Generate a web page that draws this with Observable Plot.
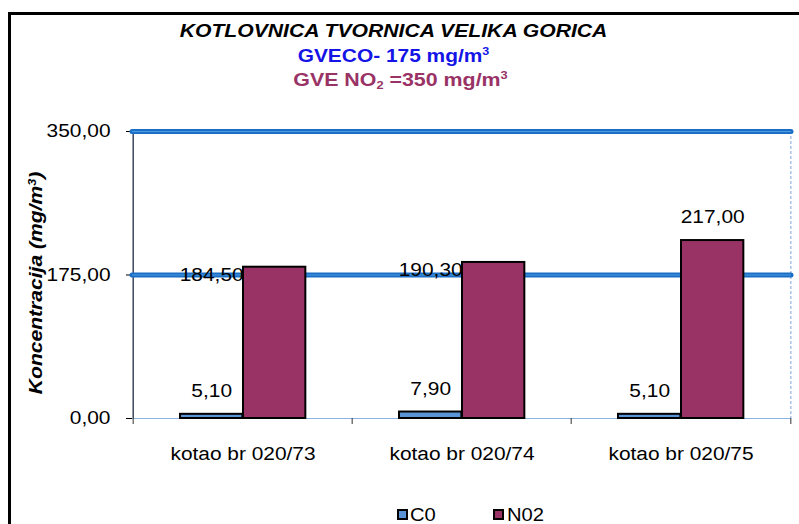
<!DOCTYPE html>
<html>
<head>
<meta charset="utf-8">
<script src="https://cdn.jsdelivr.net/npm/d3@7"></script>
<script src="https://cdn.jsdelivr.net/npm/@observablehq/plot@0.6"></script>
<style>
  body { margin: 0; background: #fff; }
  #wrap { position: relative; width: 799px; height: 524px; overflow: hidden; background: #fff;
          font-family: "Liberation Sans", Arial, sans-serif; }
  #frame { position: absolute; left: 8px; top: 12px; width: 820px; height: 540px;
           border-left: 3px solid #000; border-top: 3px solid #000; }
  .t { position: absolute; left: -6px; width: 799px; text-align: center; line-height: 1; font-weight: bold; white-space: nowrap; }
  #t1 { top: 21.8px; font-size: 18px; font-style: italic; color: #000; transform: scaleX(1.175); }
  #t2 { top: 46px; font-size: 19px; color: #1414e6; transform: scaleX(1.1); }
  #t3 { top: 70px; font-size: 19px; color: #993366; left: 1px; transform: scaleX(1.125); }
  .t sup { font-size: 0.6em; vertical-align: 0.6em; line-height: 0; }
  .t sub { font-size: 0.6em; vertical-align: -0.25em; line-height: 0; }
  #ylab { position: absolute; left: 36px; top: 283px; transform: translate(-50%, -50%) rotate(-90deg) scaleX(1.17);
          font-size: 18px; font-weight: bold; font-style: italic; white-space: nowrap; line-height: 1; }
  #ylab sup { font-size: 0.6em; vertical-align: 0.6em; line-height: 0; }
  #chart { position: absolute; left: 0; top: 0; }
  .lg { position: absolute; top: 506px; font-size: 18px; line-height: 1; transform: scaleX(1.12); transform-origin: left center; }
  .sw { position: absolute; top: 509px; width: 11px; height: 11px; box-sizing: border-box; border: 2px solid #000; }
</style>
</head>
<body>
<div id="wrap">
  <div id="frame"></div>
  <div class="t" id="t1">KOTLOVNICA TVORNICA VELIKA GORICA</div>
  <div class="t" id="t2">GVECO- 175 mg/m<sup>3</sup></div>
  <div class="t" id="t3">GVE NO<sub>2</sub> =350 mg/m<sup>3</sup></div>
  <div id="ylab">Koncentracija (mg/m<sup>3</sup>)</div>
  <div id="chart"></div>
  <div class="sw" id="sw1"></div><div class="lg" id="lg1"></div>
  <div class="sw" id="sw2"></div><div class="lg" id="lg2"></div>
</div>
<script>
// ---- data ----
const categories = ["kotao br 020/73", "kotao br 020/74", "kotao br 020/75"];
const seriesNames = ["C0", "N02"];
const c0Values = [5.10, 7.90, 5.10];
const no2Values = [184.50, 190.30, 217.00];
const yTicks = [0, 175, 350];
const limitLines = [175, 350];
const labelsBesideBar = ["kotao br 020/73", "kotao br 020/74"]; // N02 labels placed left of the bar
const colors = { C0: "#5a93d6", N02: "#993366" };

const data = categories.flatMap((cat, i) => [
  { cat, series: "C0", value: c0Values[i] },
  { cat, series: "N02", value: no2Values[i] }
]);
const fmt = d => d.toFixed(2).replace(".", ",");

const W = 799, H = 524, mL = 132, mR = 8, mT = 131, mB = 106;
const bw = (W - mL - mR) / categories.length; // band width
const barW = 63, gap = 47;
const c0Data = data.filter(d => d.series === "C0");
const n2Data = data.filter(d => d.series === "N02");
const c0dx = -bw / 2 + gap + barW / 2;
const n2dx = -bw / 2 + gap + barW * 1.5;

const chart = Plot.plot({
  width: W, height: H,
  marginLeft: mL, marginRight: mR, marginTop: mT, marginBottom: mB,
  style: { fontFamily: "'Liberation Sans', Arial, sans-serif", fontSize: "18px", background: "transparent", overflow: "visible", color: "#000" },
  x: { domain: categories, padding: 0, label: null, tickSize: 0, tickPadding: 29 },
  y: { domain: [0, 350], ticks: yTicks, tickFormat: fmt, label: null, tickSize: 6, tickPadding: 16 },
  marks: [
    Plot.ruleY([0], { stroke: "#8db3e2", strokeWidth: 1.2 }),
    Plot.ruleX([categories[categories.length - 1]], { x: d => d, dx: bw / 2, stroke: "#a8c3ea", strokeWidth: 1.5, strokeDasharray: "3,2" }),
    Plot.ruleX([categories[0]], { x: d => d, dx: -bw / 2, stroke: "#10183a", strokeWidth: 1.2 }),
    Plot.ruleX(categories, { x: d => d, dx: -bw / 2, y1: 0, y2: 0, insetBottom: -6, stroke: "#333" }),
    Plot.ruleX([categories[categories.length - 1]], { x: d => d, dx: bw / 2, y1: 0, y2: 0, insetBottom: -6, stroke: "#333" }),
    Plot.ruleY(limitLines, { stroke: "#1a6fc4", strokeWidth: 5, strokeLinecap: "round" }),
    Plot.ruleY(limitLines, { stroke: "#4c9be4", strokeWidth: 1.2 }),
    Plot.barY(c0Data, { x: "cat", y: "value", fill: colors.C0, stroke: "#000", strokeWidth: 2,
      insetLeft: gap, insetRight: bw - gap - barW }),
    Plot.barY(n2Data, { x: "cat", y: "value", fill: colors.N02, stroke: "#000", strokeWidth: 2,
      insetLeft: gap + barW, insetRight: bw - gap - 2 * barW }),
    Plot.text(c0Data, { x: "cat", y: "value", text: d => fmt(d.value), dx: c0dx, dy: -23, fill: "#000" }),
    Plot.text(n2Data.filter(d => !labelsBesideBar.includes(d.cat)), { x: "cat", y: "value", text: d => fmt(d.value), dx: n2dx, dy: -23, fill: "#000" }),
    Plot.text(n2Data.filter(d => labelsBesideBar.includes(d.cat)), { x: "cat", y: "value", text: d => fmt(d.value), dx: n2dx - barW, dy: 8, fill: "#000" })
  ]
});
document.getElementById("chart").appendChild(chart);

// widen glyphs slightly, as in the reference rendering
chart.querySelectorAll("text").forEach(t => {
  const len = t.getComputedTextLength();
  if (len > 0) {
    t.setAttribute("textLength", (len * 1.16).toFixed(1));
    t.setAttribute("lengthAdjust", "spacingAndGlyphs");
  }
});

// legend
const pos = [{ sw: 397, tx: 410 }, { sw: 493, tx: 507 }];
seriesNames.forEach((s, i) => {
  const sw = document.getElementById("sw" + (i + 1));
  sw.style.left = pos[i].sw + "px";
  sw.style.background = colors[s];
  const lg = document.getElementById("lg" + (i + 1));
  lg.style.left = pos[i].tx + "px";
  lg.textContent = s;
});
</script>
</body>
</html>
